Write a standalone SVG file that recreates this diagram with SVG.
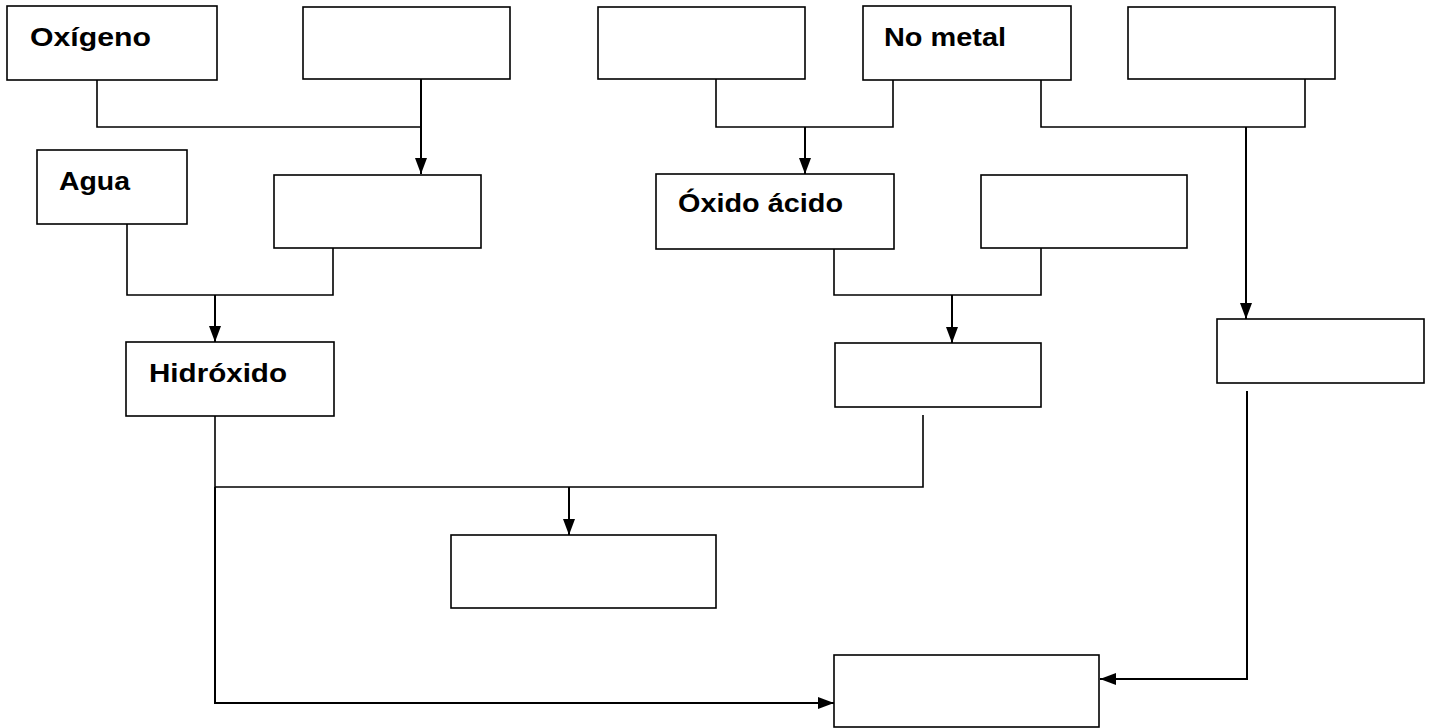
<svg xmlns="http://www.w3.org/2000/svg" width="1429" height="728" viewBox="0 0 1429 728">
<style>
.box{fill:#fff;stroke:#000;stroke-width:1.6}
.ln{fill:none;stroke:#000;stroke-width:1.6}
.ar{fill:none;stroke:#000;stroke-width:2}
.t{font-family:"Liberation Sans",Arial,sans-serif;font-weight:bold;font-size:26px;fill:#000}
</style>
<defs>
<marker id="arr" markerUnits="userSpaceOnUse" markerWidth="17" markerHeight="13" refX="16" refY="6" orient="auto" viewBox="0 0 17 12">
<path d="M0,0 L16,6 L0,12 z" fill="#000"/>
</marker>
</defs>
<rect width="1429" height="728" fill="#fff"/>
<g id="connectors">
<path class="ln" d="M97,80 V127 H421"/>
<path class="ar" d="M421,79 V174" marker-end="url(#arr)"/>
<path class="ln" d="M716,79 V127 H893 V80"/>
<path class="ar" d="M805,127 V174" marker-end="url(#arr)"/>
<path class="ln" d="M1041,80 V127 H1305 V79"/>
<path class="ar" d="M1246,127 V319" marker-end="url(#arr)"/>
<path class="ln" d="M127,224 V295 H333 V248"/>
<path class="ar" d="M215,295 V342" marker-end="url(#arr)"/>
<path class="ln" d="M834,249 V295 H1041 V248"/>
<path class="ar" d="M952,295 V343" marker-end="url(#arr)"/>
<path class="ln" d="M215,416 V487 H923 V415"/>
<path class="ar" d="M569,487 V535" marker-end="url(#arr)"/>
<path class="ar" d="M215,487 V703 H834" marker-end="url(#arr)"/>
<path class="ar" d="M1247,391 V679 H1100" marker-end="url(#arr)"/>
</g>
<g id="n-oxigeno"><rect class="box" x="7" y="6" width="210" height="74"/><text class="t" x="30" y="46" textLength="121" lengthAdjust="spacingAndGlyphs">Oxígeno</text></g>
<g id="n-b2"><rect class="box" x="303" y="7" width="207" height="72"/></g>
<g id="n-a"><rect class="box" x="598" y="7" width="207" height="72"/></g>
<g id="n-nometal"><rect class="box" x="863" y="6" width="208" height="74"/><text class="t" x="884" y="46" textLength="122" lengthAdjust="spacingAndGlyphs">No metal</text></g>
<g id="n-c"><rect class="box" x="1128" y="7" width="207" height="72"/></g>
<g id="n-agua"><rect class="box" x="37" y="150" width="150" height="74"/><text class="t" x="59" y="190" textLength="71" lengthAdjust="spacingAndGlyphs">Agua</text></g>
<g id="n-b3"><rect class="box" x="274" y="175" width="207" height="73"/></g>
<g id="n-oxidoacido"><rect class="box" x="656" y="174" width="238" height="75"/><text class="t" x="678" y="212" textLength="165" lengthAdjust="spacingAndGlyphs">Óxido ácido</text></g>
<g id="n-d"><rect class="box" x="981" y="175" width="206" height="73"/></g>
<g id="n-hidroxido"><rect class="box" x="126" y="342" width="208" height="74"/><text class="t" x="149" y="382" textLength="138" lengthAdjust="spacingAndGlyphs">Hidróxido</text></g>
<g id="n-mid"><rect class="box" x="835" y="343" width="206" height="64"/></g>
<g id="n-e"><rect class="box" x="1217" y="319" width="207" height="64"/></g>
<g id="n-f"><rect class="box" x="451" y="535" width="265" height="73"/></g>
<g id="n-g"><rect class="box" x="834" y="655" width="265" height="72"/></g>
</svg>
